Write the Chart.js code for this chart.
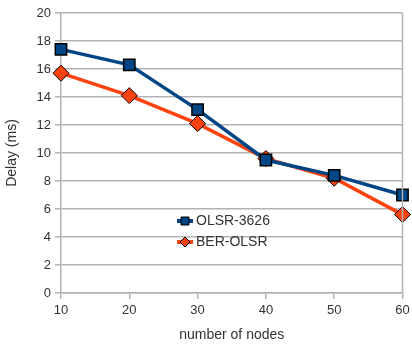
<!DOCTYPE html>
<html>
<head>
<meta charset="utf-8">
<script src="https://cdn.jsdelivr.net/npm/chart.js@4"></script>
<style>
  html, body { margin: 0; padding: 0; background: #fff; }
  #wrap { width: 412px; height: 348px; }
</style>
</head>
<body>
<div id="wrap"><canvas id="delayChart" width="412" height="348"></canvas></div>
<script>
// number of nodes vs delay
const nodes = ['10', '20', '30', '40', '50', '60'];
const olsr3626 = [17.4, 16.3, 13.1, 9.5, 8.4, 7.0];
const berOlsr = [15.7, 14.1, 12.1, 9.6, 8.2, 5.6];
const yTicks = [0, 2, 4, 6, 8, 10, 12, 14, 16, 18, 20];

const FONT = 'Liberation Sans, Arial, sans-serif';

// legend drawn inside the plot, like the original
const innerLegend = {
  id: 'innerLegend',
  afterDraw(chart) {
    const ctx = chart.ctx;
    const area = chart.chartArea;
    const x0 = area.left + 116;
    let y = area.top + 208;
    ctx.save();
    chart.data.datasets.forEach(ds => {
      ctx.strokeStyle = ds.borderColor;
      ctx.lineWidth = 4;
      ctx.beginPath();
      ctx.moveTo(x0, y);
      ctx.lineTo(x0 + 16, y);
      ctx.stroke();
      ctx.fillStyle = ds.backgroundColor;
      ctx.strokeStyle = '#000';
      ctx.lineWidth = 1;
      ctx.beginPath();
      if (ds.pointStyle === 'rect') {
        ctx.rect(x0 + 4, y - 4, 8, 8);
      } else {
        ctx.moveTo(x0 + 8, y - 5);
        ctx.lineTo(x0 + 13, y);
        ctx.lineTo(x0 + 8, y + 5);
        ctx.lineTo(x0 + 3, y);
        ctx.closePath();
      }
      ctx.fill();
      ctx.stroke();
      ctx.fillStyle = '#333';
      ctx.font = '14px ' + FONT;
      ctx.textBaseline = 'middle';
      ctx.fillText(ds.label, x0 + 19, y);
      y += 21;
    });
    ctx.restore();
  }
};

new Chart(document.getElementById('delayChart'), {
  type: 'line',
  data: {
    labels: nodes,
    datasets: [{
      label: 'OLSR-3626',
      data: olsr3626,
      borderColor: '#004586',
      backgroundColor: '#004586',
      borderWidth: 3.5,
      pointStyle: 'rect',
      pointRadius: 8,
      pointBorderColor: '#000',
      pointBorderWidth: 1.5,
      tension: 0
    }, {
      label: 'BER-OLSR',
      data: berOlsr,
      borderColor: '#ff420e',
      backgroundColor: '#ff420e',
      borderWidth: 3.5,
      pointStyle: 'rectRot',
      pointRadius: 8,
      pointBorderColor: '#000',
      pointBorderWidth: 1,
      tension: 0
    }]
  },
  options: {
    responsive: false,
    animation: false,
    devicePixelRatio: 1,
    layout: { padding: { left: 0, top: 13, right: 8, bottom: 0 } },
    plugins: { legend: { display: false }, tooltip: { enabled: false } },
    scales: {
      x: {
        offset: false,
        grid: { color: '#b3b3b3', lineWidth: 1.5, drawOnChartArea: false, tickLength: 6 },
        border: { color: '#b3b3b3', width: 1.5 },
        ticks: { color: '#333', font: { family: FONT, size: 13 }, padding: 4, maxRotation: 0 },
        title: { display: true, text: 'number of nodes', color: '#333', font: { family: FONT, size: 14 }, padding: { top: 4 } },
        afterFit(scale) { scale.height = 55; scale.paddingRight = 0; scale.paddingLeft = 0; }
      },
      y: {
        min: 0,
        max: 20,
        afterBuildTicks(scale) { scale.ticks = yTicks.map(v => ({ value: v })); },
        grid: { color: '#b3b3b3', lineWidth: 1.5, tickLength: 6 },
        border: { color: '#b3b3b3', width: 1.5 },
        ticks: { color: '#333', font: { family: FONT, size: 13 }, padding: 4 },
        title: { display: true, text: 'Delay (ms)', color: '#333', font: { family: FONT, size: 14 } },
        afterFit(scale) { scale.width = 61; }
      }
    }
  },
  plugins: [innerLegend, {
    id: 'rightBorder',
    afterDraw(chart) {
      const { ctx, chartArea } = chart;
      ctx.save();
      ctx.strokeStyle = '#b3b3b3';
      ctx.lineWidth = 1.5;
      ctx.beginPath();
      ctx.moveTo(chartArea.right, chartArea.top);
      ctx.lineTo(chartArea.right, chartArea.bottom);
      ctx.stroke();
      ctx.restore();
    }
  }]
});
</script>
</body>
</html>
